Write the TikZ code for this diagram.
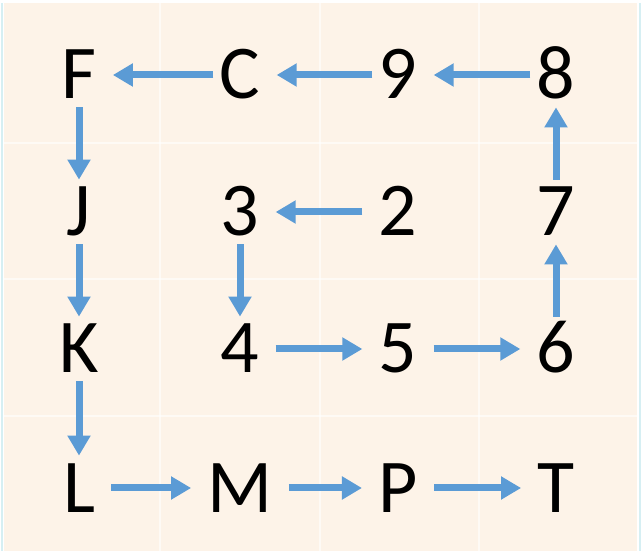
\documentclass[tikz,border=0pt]{standalone}
\usepackage{fontspec}
\setmainfont{Carlito}
\usetikzlibrary{arrows.meta}
\definecolor{peach}{HTML}{FDF3E8}
\definecolor{flowblue}{HTML}{5B9BD5}
\definecolor{edgecyan}{HTML}{D6EFF3}
\tikzset{
	cell/.style={inner xsep=8pt,inner ysep=0pt,text height=24pt,text depth=0pt,minimum height=32pt,font=\fontsize{38}{40}\selectfont},
	flow/.style={flowblue,line width=3.5pt,-{Triangle[width=11pt,length=10pt]}},
	toprow/.style={shorten <=-5pt},
	gridline/.style={white,opacity=0.6,line width=0.8pt}
}

\begin{document}
\begin{tikzpicture}[x=0.5pt,y=-0.5pt]
			\useasboundingbox (0,0) rectangle (642,560);
			\fill[peach] (4,3) rectangle (637,551);
			\draw[edgecyan,line width=1pt] (1.5,3) -- (1.5,551) (639.5,3) -- (639.5,551);
			\foreach \x in {160,320,479}{
				\draw[gridline] (\x,3) -- (\x,551);
			}
			\foreach \y in {143,279,416}{
				\draw[gridline] (4,\y) -- (637,\y);
			}

			% row 1
			\node[cell] (F) at (79,75) {F};
			\node[cell] (C) at (240,75) {C};
			\node[cell] (n9) at (398,75) {9};
			\node[cell] (n8) at (556,75) {8};
			% row 2
			\node[cell] (J) at (79,212) {J};
			\node[cell] (n3) at (240,212) {3};
			\node[cell] (n2) at (398,212) {2};
			\node[cell] (n7) at (556,212) {7};
			% row 3
			\node[cell] (K) at (79,349) {K};
			\node[cell] (n4) at (240,349) {4};
			\node[cell] (n5) at (398,349) {5};
			\node[cell] (n6) at (556,349) {6};
			% row 4
			\node[cell] (L) at (79,488) {L};
			\node[cell] (M) at (240,488) {M};
			\node[cell] (P) at (398,488) {P};
			\node[cell] (T) at (556,488) {T};

			\draw[flow,toprow] (n8) -- (n9);
			\draw[flow,toprow] (n9) -- (C);
			\draw[flow,toprow] (C) -- (F);
			\draw[flow] (F) -- (J);
			\draw[flow] (J) -- (K);
			\draw[flow] (K) -- (L);
			\draw[flow] (L) -- (M);
			\draw[flow] (M) -- (P);
			\draw[flow] (P) -- (T);
			\draw[flow] (n2) -- (n3);
			\draw[flow] (n3) -- (n4);
			\draw[flow] (n4) -- (n5);
			\draw[flow] (n5) -- (n6);
			\draw[flow] (n6) -- (n7);
			\draw[flow] (n7) -- (n8);
		\end{tikzpicture}
\end{document}
